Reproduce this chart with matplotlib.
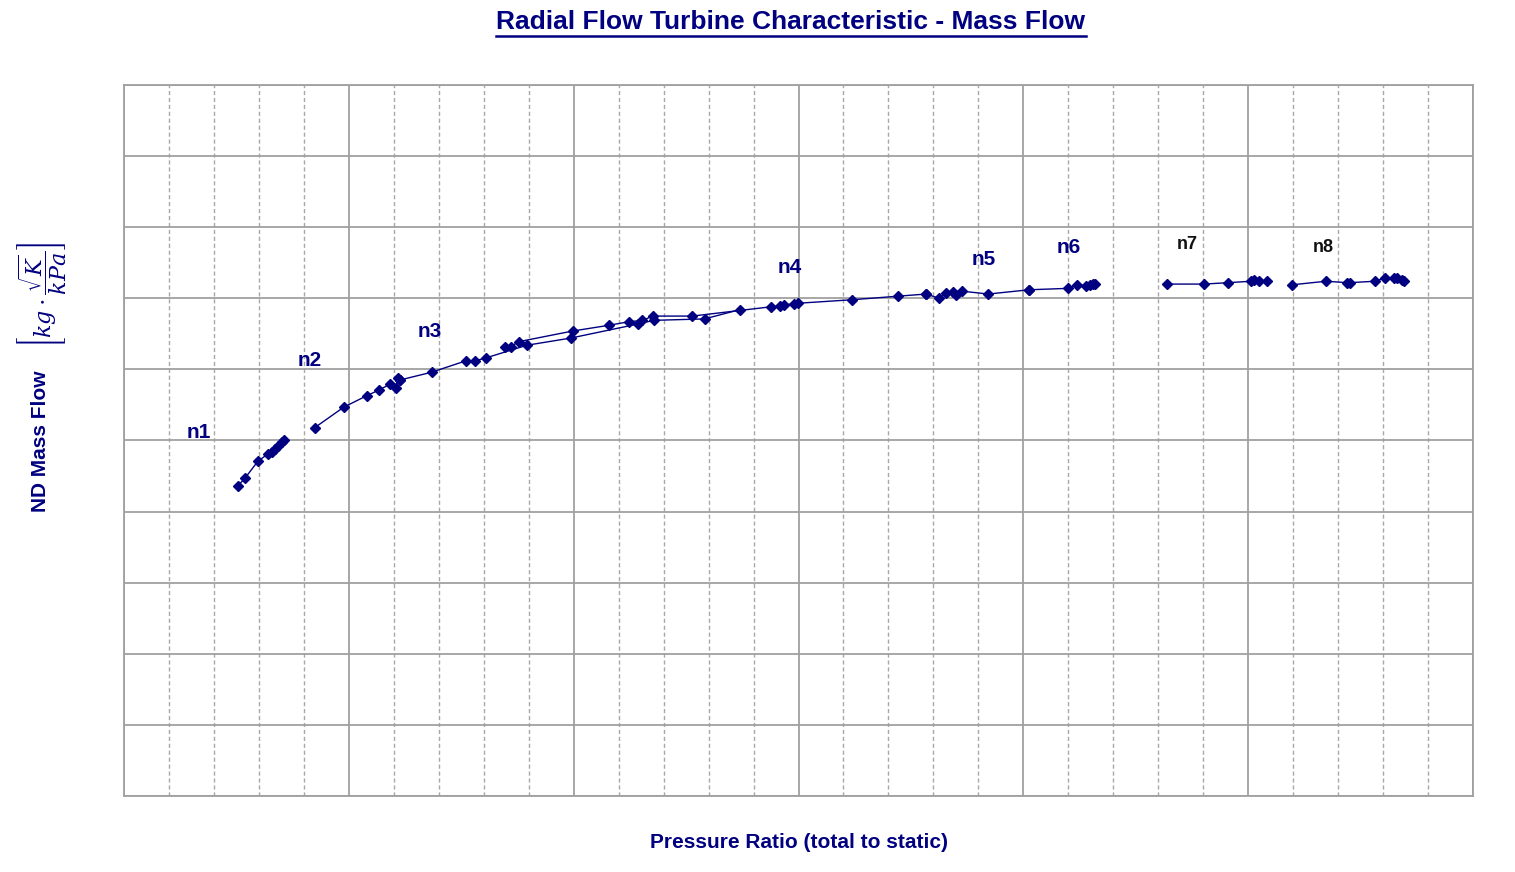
import matplotlib
matplotlib.use("Agg")
import matplotlib.pyplot as plt
from matplotlib.lines import Line2D
from matplotlib.ticker import MultipleLocator, NullFormatter

plt.rcParams['font.family'] = ['Liberation Sans', 'DejaVu Sans']
plt.rcParams['mathtext.fontset'] = 'dejavuserif'

NAVY = '#000080'

# Speed lines: pressure ratio (x) vs ND mass flow (y)
n1_x = [1.253, 1.269, 1.298, 1.320, 1.329, 1.336, 1.342, 1.351, 1.356]
n1_y = [0.436, 0.447, 0.471, 0.481, 0.484, 0.488, 0.492, 0.498, 0.501]

n2_x = [1.424, 1.489, 1.540, 1.567, 1.591, 1.604, 1.609, 1.613]
n2_y = [0.518, 0.547, 0.563, 0.571, 0.579, 0.574, 0.588, 0.585]

n3_x = [1.613, 1.684, 1.760, 1.780, 1.804, 1.896, 1.993, 2.144, 2.178, 2.291, 2.369]
n3_y = [0.585, 0.596, 0.612, 0.612, 0.616, 0.634, 0.644, 0.664, 0.669, 0.671, 0.684]

n4_x = [1.847, 1.860, 1.878, 1.998, 2.078, 2.122, 2.153, 2.176, 2.264, 2.438,
        2.458, 2.467, 2.491, 2.498, 2.620, 2.722, 2.784]
n4_y = [0.632, 0.632, 0.639, 0.654, 0.662, 0.667, 0.669, 0.675, 0.675, 0.688,
        0.689, 0.691, 0.692, 0.693, 0.698, 0.703, 0.706]

n5_x = [2.784, 2.813, 2.827, 2.844, 2.851, 2.864, 2.922, 3.013]
n5_y = [0.706, 0.700, 0.707, 0.709, 0.704, 0.710, 0.706, 0.712]

n6_x = [3.013, 3.100, 3.120, 3.140, 3.149, 3.156, 3.160]
n6_y = [0.712, 0.714, 0.719, 0.718, 0.719, 0.720, 0.720]

n7_x = [3.320, 3.402, 3.456, 3.507, 3.513, 3.524, 3.542]
n7_y = [0.720, 0.720, 0.722, 0.724, 0.726, 0.724, 0.724]

n8_x = [3.598, 3.673, 3.720, 3.727, 3.782, 3.804, 3.824, 3.831, 3.842, 3.847]
n8_y = [0.719, 0.724, 0.722, 0.722, 0.724, 0.729, 0.729, 0.729, 0.726, 0.724]

labels = ['n1', 'n2', 'n3', 'n4', 'n5', 'n6', 'n7', 'n8']
label_x = [1.167, 1.413, 1.680, 2.480, 2.913, 3.100, 3.364, 3.667]
label_y = [0.511, 0.612, 0.653, 0.744, 0.755, 0.772, 0.776, 0.771]

series = [(n1_x, n1_y), (n2_x, n2_y), (n3_x, n3_y), (n4_x, n4_y),
          (n5_x, n5_y), (n6_x, n6_y), (n7_x, n7_y), (n8_x, n8_y)]

fig = plt.figure(figsize=(15.15, 8.72), dpi=100)
ax = fig.add_axes([124/1515, 1-796/872, (1473-124)/1515, (796-85)/872])

for xs, ys in series:
    ax.plot(xs, ys, color=NAVY, lw=1.0, marker='D', ms=5.5, mfc=NAVY, mec=NAVY)

for i, lab in enumerate(labels):
    if i < 6:
        ax.text(label_x[i], label_y[i], lab, color=NAVY, fontsize=15,
                fontweight='bold', ha='center', va='center')
    else:
        ax.text(label_x[i], label_y[i], lab, color='#111111', fontsize=13,
                fontweight='bold', ha='center', va='center')

ax.set_xlim(1.0, 4.0)
ax.set_ylim(0.0, 1.0)
ax.xaxis.set_major_locator(MultipleLocator(0.5))
ax.xaxis.set_minor_locator(MultipleLocator(0.1))
ax.yaxis.set_major_locator(MultipleLocator(0.1))
ax.xaxis.set_major_formatter(NullFormatter())
ax.yaxis.set_major_formatter(NullFormatter())
ax.tick_params(which='both', length=0)
ax.grid(which='major', color='#a0a0a0', lw=1.3, ls='-')
ax.grid(which='minor', axis='x', color='#a8a8a8', lw=1.0, ls=(0, (3, 2)))
ax.set_axisbelow(True)
for sp in ax.spines.values():
    sp.set_color('#a0a0a0')
    sp.set_linewidth(1.3)

# title with underline
title = fig.text(791/1515, 1-22/872, 'Radial Flow Turbine Characteristic - Mass Flow',
                 ha='center', va='center', fontsize=19, fontweight='bold', color=NAVY)
fig.text(799/1515, 1-842/872, 'Pressure Ratio (total to static)',
         ha='center', va='center', fontsize=15, fontweight='bold', color=NAVY)
fig.text(40/1515, 1-441/872, 'ND Mass Flow', rotation=90,
         ha='center', va='center', fontsize=15, fontweight='bold', color=NAVY)
fig.text(42/1515, 1-295/872, r'$\left[kg\cdot\dfrac{\sqrt{K}}{kPa}\right]$', rotation=90,
         ha='center', va='center', fontsize=16, color=NAVY)

fig.canvas.draw()
bb = title.get_window_extent().transformed(fig.transFigure.inverted())
fig.add_artist(Line2D([bb.x0, bb.x1], [bb.y0 - 0.002, bb.y0 - 0.002],
                      color=NAVY, lw=1.8, transform=fig.transFigure))

fig.savefig('out.png', dpi=100)
